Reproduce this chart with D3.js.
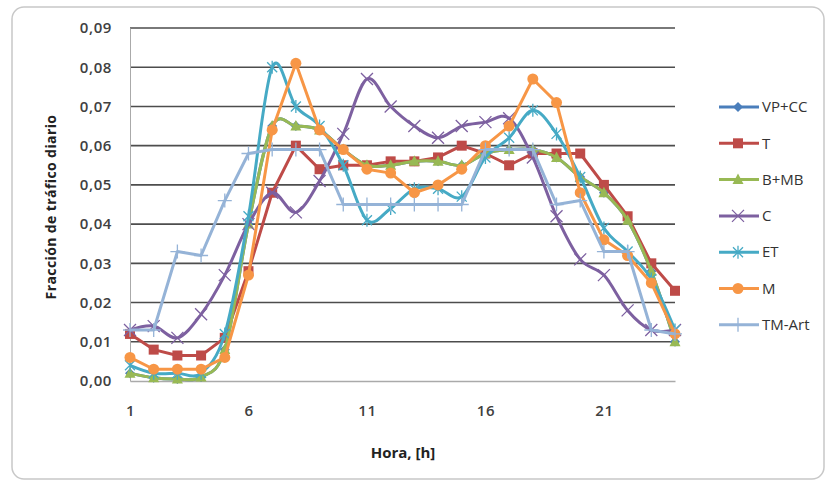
<!DOCTYPE html>
<html>
<head>
<meta charset="utf-8">
<script src="https://cdn.jsdelivr.net/npm/d3@7"></script>
<style>
  body { margin: 0; background: #fff; }
  text { font-family: "Open Sans", "Liberation Sans", sans-serif; }
</style>
</head>
<body>
<svg id="chart" width="830" height="485"></svg>
<script>
// hours 1..24
var hours = d3.range(1, 25);
var yTicks = [0, 0.01, 0.02, 0.03, 0.04, 0.05, 0.06, 0.07, 0.08, 0.09];
var xTicks = [1, 6, 11, 16, 21];

var vpcc  = [0.002, 0.0008, 0.0005, 0.001, 0.008, 0.040, 0.065, 0.065, 0.064, 0.059, 0.055, 0.055, 0.056, 0.056, 0.055, 0.058, 0.059, 0.059, 0.057, 0.052, 0.048, 0.041, 0.028, 0.010];
var t     = [0.012, 0.008, 0.0065, 0.0065, 0.011, 0.028, 0.048, 0.060, 0.054, 0.055, 0.055, 0.056, 0.056, 0.057, 0.060, 0.058, 0.055, 0.058, 0.058, 0.058, 0.050, 0.042, 0.030, 0.023];
var bmb   = [0.002, 0.0008, 0.0005, 0.001, 0.008, 0.040, 0.065, 0.065, 0.064, 0.059, 0.055, 0.055, 0.056, 0.056, 0.055, 0.058, 0.059, 0.059, 0.057, 0.052, 0.048, 0.041, 0.028, 0.010];
var c     = [0.013, 0.014, 0.011, 0.017, 0.027, 0.040, 0.048, 0.043, 0.051, 0.063, 0.077, 0.070, 0.065, 0.062, 0.065, 0.066, 0.067, 0.057, 0.042, 0.031, 0.027, 0.018, 0.013, 0.013];
var et    = [0.004, 0.002, 0.002, 0.002, 0.012, 0.042, 0.080, 0.070, 0.065, 0.055, 0.041, 0.044, 0.049, 0.049, 0.047, 0.057, 0.062, 0.069, 0.063, 0.052, 0.039, 0.033, 0.026, 0.013];
var m     = [0.006, 0.003, 0.003, 0.003, 0.006, 0.027, 0.064, 0.081, 0.064, 0.059, 0.054, 0.053, 0.048, 0.050, 0.054, 0.060, 0.065, 0.077, 0.071, 0.048, 0.036, 0.032, 0.025, 0.012];
var tmart = [0.013, 0.013, 0.033, 0.032, 0.046, 0.058, 0.059, 0.059, 0.059, 0.045, 0.045, 0.045, 0.045, 0.045, 0.045, 0.059, 0.059, 0.059, 0.045, 0.046, 0.033, 0.033, 0.013, 0.012];

var series = [
  {name: "VP+CC", values: vpcc, color: "#4A7EBB", marker: "diamond", smooth: true},
  {name: "T", values: t, color: "#BE4B48", marker: "square", smooth: false},
  {name: "B+MB", values: bmb, color: "#98B954", marker: "triangle", smooth: true},
  {name: "C", values: c, color: "#7D60A0", marker: "x", smooth: true},
  {name: "ET", values: et, color: "#46AAC5", marker: "star", smooth: true},
  {name: "M", values: m, color: "#F79646", marker: "circle", smooth: false},
  {name: "TM-Art", values: tmart, color: "#95B3D7", marker: "plus", smooth: false}
];

var svg = d3.select("#chart");

svg.append("rect")
  .attr("x", 12).attr("y", 7)
  .attr("width", 812).attr("height", 472)
  .attr("rx", 12)
  .attr("fill", "#fff")
  .attr("stroke", "#c8c8c8")
  .attr("stroke-width", 1.5);

var x = d3.scaleLinear().domain([1, 24]).range([130, 675]);
var y = d3.scaleLinear().domain([0, 0.09]).range([381, 28]);

// grid
svg.append("g")
  .selectAll("line")
  .data(yTicks.slice(1))
  .enter().append("line")
  .attr("x1", 130).attr("x2", 675)
  .attr("y1", function(d) { return y(d); })
  .attr("y2", function(d) { return y(d); })
  .attr("stroke", "#4d4d4d")
  .attr("stroke-width", 1.6);

var fmt = function(d) { return d3.format(".2f")(d).replace(".", ","); };

var yAxis = svg.append("g")
  .attr("transform", "translate(130,0)")
  .call(d3.axisLeft(y).tickValues(yTicks).tickFormat(fmt).tickSize(0).tickPadding(18));
yAxis.select(".domain").attr("stroke", "#aaa");

var xAxis = svg.append("g")
  .attr("transform", "translate(0,381)")
  .call(d3.axisBottom(x).tickValues(xTicks).tickFormat(d3.format("d")).tickSize(0).tickPadding(24));
xAxis.select(".domain").attr("stroke", "#aaa").attr("stroke-width", 1.5);

svg.selectAll(".tick text")
  .attr("font-size", 15)
  .attr("font-weight", "600")
  .attr("letter-spacing", "0.6px")
  .attr("fill", "#404040");

svg.append("text")
  .attr("transform", "translate(51,207) rotate(-90)")
  .attr("text-anchor", "middle")
  .attr("dy", "0.35em")
  .attr("font-size", 14)
  .attr("font-weight", "bold")
  .attr("letter-spacing", "0.4px")
  .attr("fill", "#222")
  .text("Fracción de tráfico diario");

svg.append("text")
  .attr("x", 403).attr("y", 453)
  .attr("text-anchor", "middle")
  .attr("dy", "0.35em")
  .attr("font-size", 15)
  .attr("font-weight", "bold")
  .attr("fill", "#222")
  .text("Hora, [h]");

function drawMarker(g, type, color) {
  var s = 5;
  if (type === "diamond") {
    g.append("path").attr("d", "M0," + (-s) + "L" + s + ",0L0," + s + "L" + (-s) + ",0Z").attr("fill", color);
  } else if (type === "square") {
    g.append("rect").attr("x", -s).attr("y", -s).attr("width", 2 * s).attr("height", 2 * s).attr("fill", color);
  } else if (type === "triangle") {
    g.append("path").attr("d", "M0," + (-s - 1) + "L" + (s + 0.5) + "," + (s - 0.5) + "L" + (-s - 0.5) + "," + (s - 0.5) + "Z").attr("fill", color);
  } else if (type === "circle") {
    g.append("circle").attr("r", s + 0.5).attr("fill", color);
  } else if (type === "x") {
    g.append("path").attr("d", "M-6,-6L6,6M-6,6L6,-6").attr("stroke", color).attr("stroke-width", 1.3);
  } else if (type === "star") {
    g.append("path").attr("d", "M-5,-5L5,5M-5,5L5,-5M0,-6.5L0,6.5").attr("stroke", color).attr("stroke-width", 1.3);
  } else if (type === "plus") {
    g.append("path").attr("d", "M-7,0L7,0M0,-7L0,7").attr("stroke", color).attr("stroke-width", 1.3);
  }
}

var smoothLine = d3.line()
  .x(function(d, i) { return x(hours[i]); })
  .y(function(d) { return y(d); })
  .curve(d3.curveCatmullRom.alpha(0));
var straightLine = d3.line()
  .x(function(d, i) { return x(hours[i]); })
  .y(function(d) { return y(d); });

series.forEach(function(s) {
  svg.append("path")
    .datum(s.values)
    .attr("fill", "none")
    .attr("stroke", s.color)
    .attr("stroke-width", 3)
    .attr("stroke-linejoin", "round")
    .attr("d", s.smooth ? smoothLine : straightLine);

  svg.append("g")
    .selectAll("g")
    .data(s.values)
    .enter().append("g")
    .attr("transform", function(d, i) { return "translate(" + x(hours[i]) + "," + y(d) + ")"; })
    .each(function() { drawMarker(d3.select(this), s.marker, s.color); });
});

// legend
var legend = svg.append("g")
  .selectAll("g")
  .data(series)
  .enter().append("g")
  .attr("transform", function(d, i) { return "translate(719," + (107 + i * 36.3) + ")"; });

legend.append("line")
  .attr("x1", 0).attr("x2", 40)
  .attr("stroke", function(d) { return d.color; })
  .attr("stroke-width", 3);

legend.append("g")
  .attr("transform", "translate(19,0)")
  .each(function(d) { drawMarker(d3.select(this), d.marker, d.color); });

legend.append("text")
  .attr("x", 43)
  .attr("dy", "0.35em")
  .attr("font-size", 15)
  .attr("fill", "#333")
  .text(function(d) { return d.name; });
</script>
</body>
</html>
